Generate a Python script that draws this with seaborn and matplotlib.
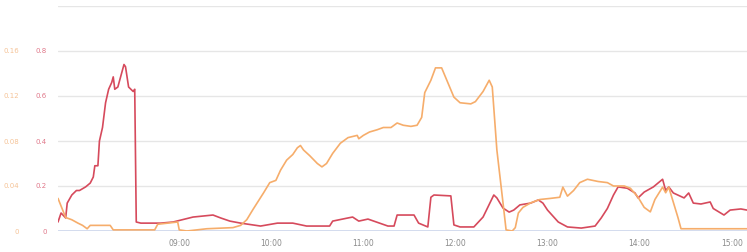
import pandas as pd
import seaborn as sns
import matplotlib.pyplot as plt
import matplotlib.dates as mdates

# -----------------------------
# Data
# -----------------------------
red_times = ["07:41", "07:43", "07:46", "07:47", "07:50", "07:53", "07:55", "07:59", "08:02", "08:04",
             "08:05", "08:07", "08:08", "08:10", "08:12", "08:14", "08:16", "08:17", "08:18", "08:20",
             "08:22", "08:24", "08:25", "08:27", "08:30", "08:31", "08:32", "08:35", "08:48", "08:56",
             "09:09", "09:22", "09:27", "09:33", "09:40", "09:53", "10:04", "10:14", "10:23", "10:38",
             "10:40", "10:50", "10:53", "10:57", "11:03", "11:16", "11:20", "11:22", "11:33", "11:36",
             "11:42", "11:44", "11:46", "11:57", "11:59", "12:03", "12:12", "12:18", "12:25", "12:27",
             "12:31", "12:35", "12:38", "12:42", "12:49", "12:54", "12:57", "13:00", "13:07", "13:13",
             "13:22", "13:31", "13:35", "13:39", "13:43", "13:46", "13:52", "13:57", "13:59", "14:03",
             "14:09", "14:15", "14:17", "14:19", "14:22", "14:29", "14:32", "14:35", "14:40", "14:46",
             "14:48", "14:55", "14:59", "15:06", "15:10"]
red_values = [0.04, 0.08, 0.058, 0.124, 0.16, 0.18, 0.18, 0.196, 0.213, 0.24,
              0.29, 0.29, 0.40, 0.46, 0.57, 0.63, 0.66, 0.685, 0.63, 0.64,
              0.69, 0.74, 0.73, 0.64, 0.62, 0.63, 0.04, 0.035, 0.035, 0.04,
              0.062, 0.071, 0.058, 0.044, 0.035, 0.022, 0.035, 0.035, 0.022, 0.022,
              0.044, 0.058, 0.062, 0.044, 0.053, 0.022, 0.022, 0.071, 0.071, 0.035,
              0.018, 0.15, 0.16, 0.156, 0.027, 0.018, 0.018, 0.062, 0.16, 0.147,
              0.102, 0.084, 0.093, 0.116, 0.124, 0.138, 0.124, 0.093, 0.04, 0.018,
              0.013, 0.022, 0.058, 0.10, 0.16, 0.196, 0.19, 0.169, 0.147, 0.173,
              0.196, 0.23, 0.18, 0.196, 0.169, 0.147, 0.169, 0.124, 0.12, 0.129,
              0.10, 0.071, 0.093, 0.098, 0.093]

orange_times = ["07:41", "07:46", "07:50", "07:54", "07:57", "08:00", "08:02", "08:07", "08:15", "08:17",
                "08:44", "08:46", "08:59", "09:00", "09:05", "09:18", "09:35", "09:40", "09:44", "09:48",
                "09:55", "09:59", "10:03", "10:06", "10:10", "10:14", "10:17", "10:19", "10:21", "10:25",
                "10:30", "10:33", "10:36", "10:40", "10:45", "10:50", "10:53", "10:56", "10:57", "11:00",
                "11:04", "11:09", "11:13", "11:18", "11:22", "11:26", "11:31", "11:35", "11:38", "11:40",
                "11:44", "11:47", "11:51", "11:55", "11:59", "12:03", "12:10", "12:13", "12:18", "12:22",
                "12:24", "12:27", "12:31", "12:33", "12:37", "12:39", "12:41", "12:44", "12:49", "12:55",
                "13:02", "13:08", "13:10", "13:13", "13:17", "13:21", "13:26", "13:33", "13:39", "13:43",
                "13:50", "13:54", "13:59", "14:03", "14:07", "14:10", "14:15", "14:17", "14:19", "14:21",
                "14:25", "14:27", "14:33", "15:10"]
orange_values = [0.029, 0.012, 0.010, 0.007, 0.005, 0.002, 0.005, 0.005, 0.005, 0.001,
                 0.001, 0.006, 0.008, 0.001, 0.0, 0.002, 0.003, 0.005, 0.010, 0.019,
                 0.034, 0.043, 0.045, 0.054, 0.063, 0.068, 0.074, 0.076, 0.072, 0.067,
                 0.060, 0.057, 0.060, 0.069, 0.078, 0.083, 0.084, 0.085, 0.082, 0.085,
                 0.088, 0.090, 0.092, 0.092, 0.096, 0.094, 0.093, 0.094, 0.101, 0.123,
                 0.134, 0.145, 0.145, 0.132, 0.119, 0.114, 0.113, 0.115, 0.124, 0.134,
                 0.128, 0.072, 0.025, 0.001, 0.0, 0.003, 0.016, 0.021, 0.025, 0.028,
                 0.029, 0.030, 0.039, 0.031, 0.036, 0.043, 0.046, 0.044, 0.043, 0.040,
                 0.040, 0.038, 0.030, 0.021, 0.017, 0.028, 0.039, 0.034, 0.039, 0.030,
                 0.012, 0.002, 0.002, 0.002]

red_ticks = [0, 0.2, 0.4, 0.6, 0.8]
red_tick_labels = ["0", "0.2", "0.4", "0.6", "0.8"]
orange_ticks = [0, 0.04, 0.08, 0.12, 0.16]
orange_tick_labels = ["0", "0.04", "0.08", "0.12", "0.16"]
x_ticks = ["09:00", "10:00", "11:00", "12:00", "13:00", "14:00", "15:00"]

day = "2020-01-01 "
red_df = pd.DataFrame({"time": pd.to_datetime([day + t for t in red_times]), "value": red_values})
orange_df = pd.DataFrame({"time": pd.to_datetime([day + t for t in orange_times]), "value": orange_values})

RED = "#d64a5c"
ORANGE = "#f6ad6b"

# -----------------------------
# Plot
# -----------------------------
sns.set_style("white")
plt.rcParams["font.family"] = ["DejaVu Sans"]

fig = plt.figure(figsize=(7.47, 2.52), dpi=100)
ax = fig.add_axes([58 / 747, 21 / 252, 689 / 747, 225 / 252])

sns.lineplot(x="time", y="value", data=red_df, ax=ax, color=RED, linewidth=1.2, zorder=3)
ax.set_ylim(0, 1.0)
ax.set_xlim(pd.Timestamp(day + "07:41"), pd.Timestamp(day + "15:10"))

for v in [0.2, 0.4, 0.6, 0.8, 1.0]:
    ax.axhline(v, color="#e6e6e6", linewidth=1.0, zorder=0)
ax.axhline(0, color="#ccd6eb", linewidth=1.2, zorder=1)

ax.set_yticks(red_ticks)
ax.set_yticklabels(red_tick_labels)
ax.tick_params(axis="y", length=0, labelsize=5, labelcolor="#e0788a", pad=8)

ax.set_xticks([pd.Timestamp(day + t) for t in x_ticks])
ax.xaxis.set_major_formatter(mdates.DateFormatter("%H:%M"))
ax.tick_params(axis="x", length=4, width=1, color="#ccd6eb", labelsize=5.5,
               labelcolor="#8a8a8a", pad=2)
ax.set_xlabel("")
ax.set_ylabel("")
for s in ax.spines.values():
    s.set_visible(False)

ax2 = ax.twinx()
sns.lineplot(x="time", y="value", data=orange_df, ax=ax2, color=ORANGE, linewidth=1.2)
ax2.set_ylim(0, 0.2)
ax2.set_yticks(orange_ticks)
ax2.set_yticklabels(orange_tick_labels)
ax2.yaxis.tick_left()
ax2.tick_params(axis="y", length=0, labelsize=5, labelcolor="#f5c397", pad=28)
ax2.set_ylabel("")
for s in ax2.spines.values():
    s.set_visible(False)

plt.savefig("out.png", dpi=100)
plt.close()
